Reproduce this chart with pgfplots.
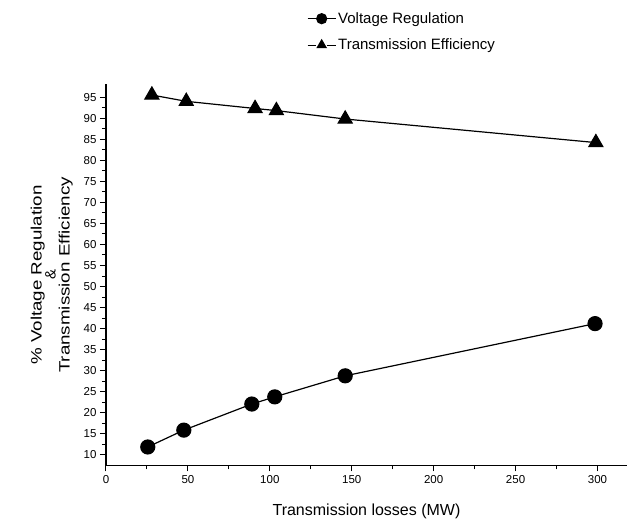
\documentclass[border=0pt]{standalone}
\usepackage{graphicx}
\usepackage{pgfplots}
\pgfplotsset{compat=1.18}
\usepackage{fontspec}
\setmainfont{Liberation Sans}

\begin{document}
\begin{tikzpicture}
	\begin{axis}[
		name=ax,
		scale only axis,
		width=521pt, height=381pt,
		xmin=0, xmax=318,
		ymin=7.5, ymax=98,
		axis lines*=left,
		axis line style={line width=1.2pt},
		tick align=outside,
		xtick={0,50,...,300},
		ytick={10,15,...,95},
		minor x tick num=1,
		minor y tick num=1,
		major tick length=6pt,
		minor tick length=4pt,
		tick style={black, line width=1pt},
		/pgf/number format/assume math mode=true,
		tick label style={font=\fontsize{11.5}{12}\selectfont},
		xlabel={Transmission losses (MW)},
		xlabel style={font=\fontsize{16}{18}\selectfont, yshift=-14pt},
		ylabel={\scalebox{1.25}[1]{\% Voltage Regulation}\\\&\\\scalebox{1.25}[1]{Transmission Efficiency}},
		ylabel style={font=\fontsize{15}{14}\selectfont, align=center, yshift=4pt},
		legend style={at={(0.38,1.2)}, anchor=north west, draw=none,
			font=\fontsize{15}{17}\selectfont, row sep=10pt},
		legend cell align=left,
		legend image code/.code={
			\draw[#1, line width=1pt] (0pt,0pt) -- (28pt,0pt);
			\draw[#1, only marks, mark size=5pt, fill=white, draw=white] (9pt,-6pt) rectangle (19pt,6pt);
			\draw[#1, only marks, mark size=5pt] plot coordinates {(14pt,0pt)};
		},
	]

\addplot[color=black, line width=1.2pt, mark=*, mark size=7pt]
  table {
       25.5  11.9
       47.5  15.9
       89    22.1
      103    23.8
      146    28.8
      298.5  41.2
  };

\addplot[color=black, line width=1.2pt, mark=triangle*, mark size=8pt]
  table {
       28    95.5
       49    94.0
       91    92.3
      104    91.8
      146    89.8
      299    84.2
  };

	\legend{Voltage Regulation, Transmission Efficiency}

	\end{axis}
	\pgfresetboundingbox
	\path[use as bounding box] (ax.south west) ++(-106pt,-63.5pt) rectangle ++(638pt,529pt);
\end{tikzpicture}
\end{document}
